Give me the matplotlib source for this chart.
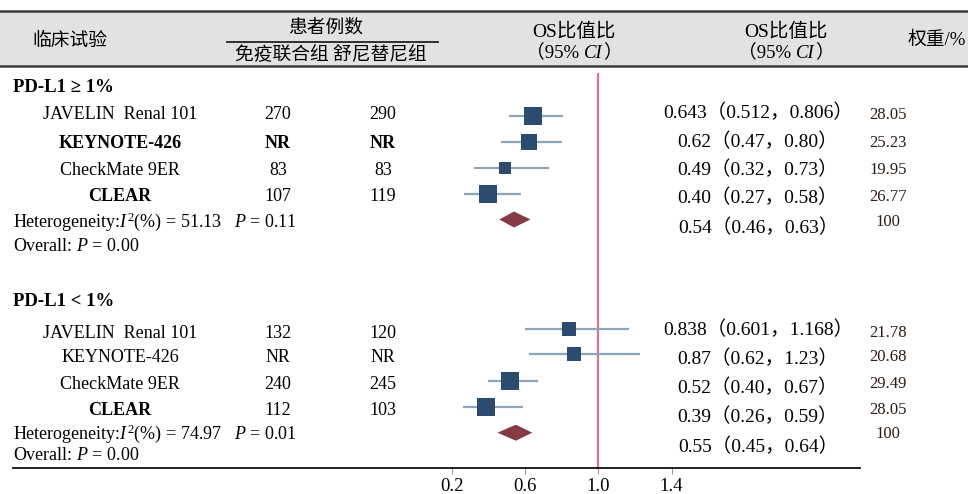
import matplotlib
matplotlib.use("Agg")
import matplotlib.pyplot as plt
from matplotlib.patches import Rectangle, Polygon
from matplotlib.lines import Line2D

plt.rcParams["mathtext.fontset"] = "custom"
plt.rcParams["mathtext.rm"] = "Liberation Serif"
plt.rcParams["mathtext.it"] = "Liberation Serif:italic"
plt.rcParams["mathtext.bf"] = "Liberation Serif:bold"

SERIF = ["Liberation Serif", "Noto Sans CJK SC", "DejaVu Sans"]
CJK = ["Noto Sans CJK SC", "Liberation Serif", "DejaVu Sans"]

# ---------------- data ----------------
group_labels = ["PD-L1 \u2265 1%", "PD-L1 < 1%"]
trials = ["JAVELIN  Renal 101", "KEYNOTE-426", "CheckMate 9ER", "CLEAR"]

combo_n_ge = ["270", "NR", "83", "107"]
suni_n_ge = ["290", "NR", "83", "119"]
hr_ge = ["0.643", "0.62", "0.49", "0.40"]
lo_ge = ["0.512", "0.47", "0.32", "0.27"]
hi_ge = ["0.806", "0.80", "0.73", "0.58"]
weight_ge = ["28.05", "25.23", "19.95", "26.77"]
pooled_ge = ["0.54", "0.46", "0.63"]
het_ge = ["51.13", "0.11"]

combo_n_lt = ["132", "NR", "240", "112"]
suni_n_lt = ["120", "NR", "245", "103"]
hr_lt = ["0.838", "0.87", "0.52", "0.39"]
lo_lt = ["0.601", "0.62", "0.40", "0.26"]
hi_lt = ["1.168", "1.23", "0.67", "0.59"]
weight_lt = ["21.78", "20.68", "29.49", "28.05"]
pooled_lt = ["0.55", "0.45", "0.64"]
het_lt = ["74.97", "0.01"]

overall_p = "0.00"
pooled_weight = "100"
x_ticks = [0.2, 0.6, 1.0, 1.4]

# ---------------- figure ----------------
W, H = 968, 494
fig = plt.figure(figsize=(W / 100, H / 100), dpi=100)

# forest panel: x in hazard-ratio units, y in pixel rows
px_per_unit = 183.3
x_ref_px = 598.3
ax_left_px, ax_right_px = 13, 860
ax_top_px, ax_bot_px = 73, 468
ax = fig.add_axes([ax_left_px / W, 1 - ax_bot_px / H,
                   (ax_right_px - ax_left_px) / W, (ax_bot_px - ax_top_px) / H])
ax.set_xlim(1 + (ax_left_px - x_ref_px) / px_per_unit,
            1 + (ax_right_px - x_ref_px) / px_per_unit)
ax.set_ylim(ax_bot_px, ax_top_px)
ax.patch.set_alpha(0)
for s in ["top", "left", "right"]:
    ax.spines[s].set_visible(False)
ax.spines["bottom"].set_color("#111111")
ax.spines["bottom"].set_linewidth(1.3)
ax.set_yticks([])
ax.set_xticks(x_ticks)
ax.set_xticklabels([f"{t:.1f}" for t in x_ticks], fontfamily=SERIF, fontsize=13.5)
ax.tick_params(axis="x", direction="out", length=4, width=0.8, color="#999999", pad=3)

ax.axvline(1.0, color="#d9768f", lw=1.6, zorder=1)

sq_color = "#2b4c6f"
ci_color = "#8ea4bb"
dia_color = "#853b45"


def draw_group(hr, lo, hi, wt, pooled, ys, dia_y):
    for h, l, u, w, y in zip(hr, lo, hi, wt, ys):
        ax.plot([float(l), float(u)], [y, y], color=ci_color, lw=1.6,
                solid_capstyle="butt", zorder=2)
        side_pt = 0.64 * float(w) * 0.72
        ax.scatter([float(h)], [y], marker="s", s=side_pt ** 2, color=sq_color,
                   linewidths=0, zorder=3)
    est, plo, phi = (float(v) for v in pooled)
    ax.add_patch(Polygon([(plo, dia_y), (est, dia_y - 8), (phi, dia_y), (est, dia_y + 8)],
                         closed=True, facecolor=dia_color, edgecolor="none", zorder=3))


draw_group(hr_ge, lo_ge, hi_ge, weight_ge, pooled_ge, [115.7, 142.3, 168.3, 194.0], 219.5)
draw_group(hr_lt, lo_lt, hi_lt, weight_lt, pooled_lt, [329.0, 354.3, 380.7, 406.7], 432.7)

# ---------------- text overlay (pixel coordinates) ----------------
tx = fig.add_axes([0, 0, 1, 1])
tx.set_xlim(0, W)
tx.set_ylim(H, 0)
tx.axis("off")
tx.patch.set_alpha(0)

# header band
tx.add_patch(Rectangle((0, 11.5), W, 54.5, facecolor="#e2e2e2", edgecolor="none", zorder=0))
tx.add_line(Line2D([0, W], [11.5, 11.5], color="#3c3c3c", lw=1.8))
tx.add_line(Line2D([0, W], [66, 66], color="#3c3c3c", lw=1.8))
tx.add_line(Line2D([227, 438], [42, 42], color="#222222", lw=1.3))

tx.text(32, 40, "临床试验", fontfamily=CJK, fontsize=13.5, va="center", ha="left")
tx.text(326, 27, "患者例数", fontfamily=CJK, fontsize=13.5, va="center", ha="center")
tx.text(331, 55, "免疫联合组 舒尼替尼组", fontfamily=CJK, fontsize=13.5, va="center", ha="center")
tx.text(574, 32, "OS比值比", fontfamily=SERIF, fontsize=14, va="center", ha="center")
tx.text(786, 32, "OS比值比", fontfamily=SERIF, fontsize=14, va="center", ha="center")
tx.text(908, 40, "权重/%", fontfamily=SERIF, fontsize=13.5, va="center", ha="left")

renderer = fig.canvas.get_renderer()


def rich_centered(xc, y, parts):
    arts = []
    for s, kw in parts:
        arts.append(tx.text(0, y, s, va="baseline", ha="left", fontsize=13.5, **kw))
    widths = [a.get_window_extent(renderer).width for a in arts]
    x = xc - sum(widths) / 2
    for a, w in zip(arts, widths):
        a.set_x(x)
        x += w


ci_parts = [("（95% ", dict(fontfamily=SERIF)),
            ("CI", dict(fontfamily="Liberation Serif", fontstyle="italic")),
            ("）", dict(fontfamily=SERIF))]
rich_centered(574, 57.5, ci_parts)
rich_centered(786, 57.5, ci_parts)


def draw_rows(label, label_y, combo, suni, hr, lo, hi, wt, pooled, het,
              name_y, est_y, wt_y, pooled_y, pooled_wt_y, het_y, overall_y, bold):
    tx.text(13, label_y, label, fontfamily=SERIF, fontweight="bold", fontsize=13.5,
            va="center", ha="left")
    for i in range(len(trials)):
        fw = "bold" if bold[i] else "normal"
        tx.text(120, name_y[i], trials[i], fontfamily=SERIF, fontsize=13, fontweight=fw,
                va="center", ha="center")
        nfw = "bold" if combo[i] == "NR" and bold[i] else "normal"
        tx.text(278, name_y[i], combo[i], fontfamily=SERIF, fontsize=13, fontweight=nfw,
                va="center", ha="center")
        tx.text(383, name_y[i], suni[i], fontfamily=SERIF, fontsize=13, fontweight=nfw,
                va="center", ha="center")
        tx.text(758, est_y[i], f"{hr[i]}（{lo[i]}，{hi[i]}）", fontfamily=SERIF,
                fontsize=14, va="center", ha="center")
        tx.text(888, wt_y[i], wt[i], fontfamily=SERIF, fontsize=12, color="#2a1e16",
                va="center", ha="center")
    tx.text(758, pooled_y, f"{pooled[0]}（{pooled[1]}，{pooled[2]}）", fontfamily=SERIF,
            fontsize=14, va="center", ha="center")
    tx.text(888, pooled_wt_y, pooled_weight, fontfamily=SERIF, fontsize=12, color="#2a1e16",
            va="center", ha="center")
    tx.text(13, het_y, f"Heterogeneity:$I^2$(%) = {het[0]}   $P$ = {het[1]}",
            fontfamily="Liberation Serif", fontsize=13, va="center", ha="left")
    tx.text(13, overall_y, f"Overall: $P$ = {overall_p}",
            fontfamily="Liberation Serif", fontsize=13, va="center", ha="left")


draw_rows(group_labels[0], 87, combo_n_ge, suni_n_ge, hr_ge, lo_ge, hi_ge, weight_ge,
          pooled_ge, het_ge,
          [114, 143, 170, 196], [113.3, 141.7, 170, 198], [115, 143, 170, 197],
          228, 221.7, 222, 246, [False, True, False, True])
draw_rows(group_labels[1], 301.7, combo_n_lt, suni_n_lt, hr_lt, lo_lt, hi_lt, weight_lt,
          pooled_lt, het_lt,
          [333, 357, 384, 410], [330, 359, 387.7, 416.7], [333, 357, 384, 410],
          446.7, 434, 434, 455, [False, False, False, True])

fig.savefig("out.png", dpi=100)
